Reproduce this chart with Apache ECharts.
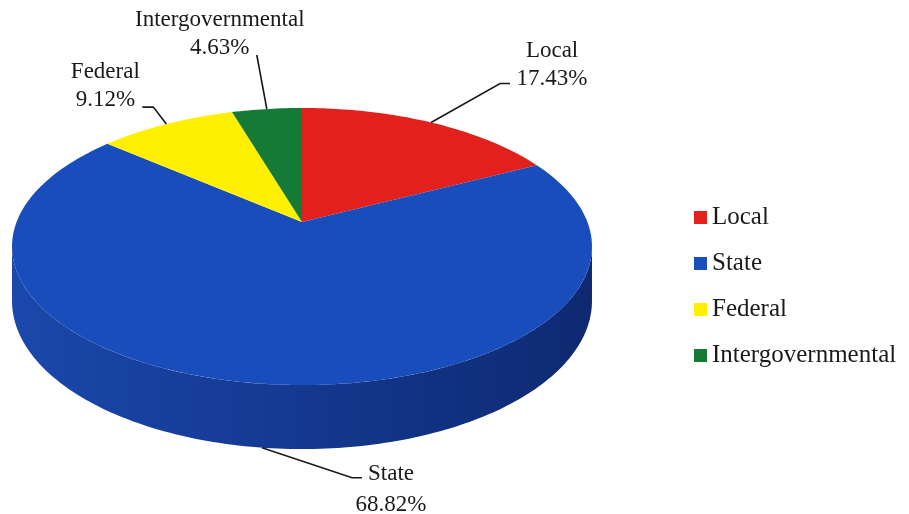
<!DOCTYPE html>
<html>
<head>
<meta charset="utf-8">
<script src="https://cdn.jsdelivr.net/npm/echarts@6/dist/echarts.min.js"></script>
<style>
html,body{margin:0;padding:0;background:#fff;}
#main{width:909px;height:514px;}
</style>
</head>
<body>
<div id="main"></div>
<script>
// ---- data ----
const categories = ['Local', 'State', 'Federal', 'Intergovernmental'];
const shares = [17.43, 68.82, 9.12, 4.63];

// ---- styles ----
const colors = ['#e3211c', '#1a4dbc', '#fff000', '#157a35'];
const FONT = '"Liberation Serif","Times New Roman",serif';

// perspective pie geometry
const G = { cx: 302, cy: 222, A: 285.4, B: 134.2, k: 0.177, H: 52.7 };
// label layout: leader-line bends relative to slice anchor, text block centre
const labelLayout = [
  { edge: 'top',    line: [[69, -39], [79, -39]],   text: [121, -58], lh: 28 },
  { edge: 'bottom', line: [[90, 30], [100, 30]],    text: [129, 42], lh: 31 },
  { edge: 'top',    line: [[-13, -17], [-24, -17]], text: [-61, -38], lh: 28 },
  { edge: 'top',    line: [[-10, -54]],             text: [-47, -75], lh: 28 }
];

function proj(t, drop) {
  const u = Math.cos(t), v = Math.sin(t), d = 1 + G.k * u;
  return [G.cx + G.A * v / d, G.cy - (G.B * u - (drop ? G.H : 0)) / d];
}
function arc(a0, a1, drop) {
  const pts = [];
  const n = Math.max(2, Math.ceil((a1 - a0) / (Math.PI / 180)));
  for (let i = 0; i <= n; i++) pts.push(proj(a0 + (a1 - a0) * i / n, drop));
  return pts;
}

const total = shares.reduce((s, v) => s + v, 0);

function makeRender(idx) {
  return function (params, api) {
    let before = 0;
    for (let i = 0; i < idx; i++) before += shares[i];
    const val = api.value(0);
    const a0 = before / total * Math.PI * 2;
    const a1 = (before + val) / total * Math.PI * 2;
    const children = [];
    // visible side wall
    const tR = Math.acos(-G.k), tL = Math.PI * 2 - tR;
    const s0 = Math.max(a0, tR), s1 = Math.min(a1, tL);
    if (s1 > s0) {
      const top = arc(s0, s1, false);
      const bot = arc(s0, s1, true).reverse();
      children.push({
        type: 'polygon',
        shape: { points: top.concat(bot) },
        style: {
          fill: {
            type: 'linear', x: 0, y: 0, x2: 1, y2: 0,
            colorStops: [
              { offset: 0, color: '#1b48ab' },
              { offset: 0.45, color: '#143a92' },
              { offset: 1, color: '#0e2971' }
            ]
          }
        }
      });
    }
    // top face
    children.push({
      type: 'polygon',
      shape: { points: [[G.cx, G.cy]].concat(arc(a0, a1, false)) },
      style: { fill: colors[idx] }
    });
    // label with leader line
    const L = labelLayout[idx];
    const am = (a0 + a1) / 2;
    const p = proj(am, L.edge === 'bottom');
    const linePts = [p].concat(L.line.map(o => [p[0] + o[0], p[1] + o[1]]));
    children.push({
      type: 'polyline',
      shape: { points: linePts },
      style: { stroke: '#1a1a1a', lineWidth: 1.6, fill: null }
    });
    children.push({
      type: 'text',
      style: {
        text: categories[idx] + '\n' + val.toFixed(2) + '%',
        x: p[0] + L.text[0],
        y: p[1] + L.text[1],
        fill: '#1a1a1a',
        fontSize: 23,
        fontFamily: FONT,
        align: 'center',
        verticalAlign: 'middle',
        lineHeight: L.lh
      }
    });
    return { type: 'group', children: children };
  };
}

const chart = echarts.init(document.getElementById('main'));
chart.setOption({
  animation: false,
  backgroundColor: '#ffffff',
  legend: {
    orient: 'vertical',
    left: 689,
    top: 199,
    icon: 'rect',
    itemWidth: 13,
    itemHeight: 13,
    itemGap: 19,
    data: categories,
    textStyle: { fontSize: 25, fontFamily: FONT, color: '#1a1a1a', lineHeight: 27 }
  },
  series: categories.map((name, i) => ({
    type: 'custom',
    name: name,
    coordinateSystem: 'none',
    itemStyle: { color: colors[i] },
    renderItem: makeRender(i),
    data: [[shares[i]]]
  }))
});
</script>
</body>
</html>
